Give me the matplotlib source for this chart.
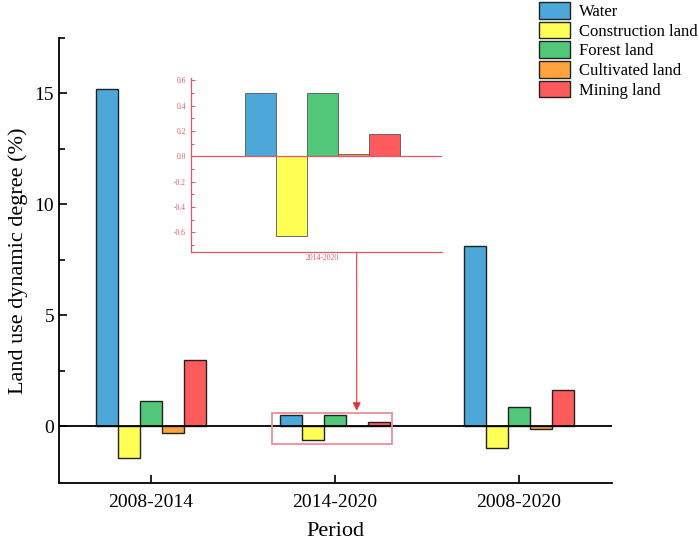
import numpy as np
import matplotlib
matplotlib.use('Agg')
import matplotlib.pyplot as plt
from matplotlib.patches import Rectangle
from matplotlib.ticker import MultipleLocator, FixedLocator

plt.rcParams['font.family'] = ['Liberation Serif', 'DejaVu Serif']
plt.rcParams['axes.unicode_minus'] = False

# data
periods = ['2008-2014', '2014-2020', '2008-2020']
classes = ['Water', 'Construction land', 'Forest land', 'Cultivated land', 'Mining land']
water = [15.2, 0.50, 8.11]
construction = [-1.44, -0.63, -1.0]
forest = [1.13, 0.50, 0.85]
cultivated = [-0.30, 0.02, -0.12]
mining = [2.97, 0.18, 1.63]
colors = ['#4ba8d9', '#ffff55', '#52c77a', '#ffa33f', '#ff5a5c']

series = [water, construction, forest, cultivated, mining]
x = np.arange(len(periods))
w = 0.12

fig = plt.figure(figsize=(6.99, 5.49), dpi=100)
ax = fig.add_axes([0.0844, 0.1202, 0.7911, 0.8106])

for i, (vals, c, name) in enumerate(zip(series, colors, classes)):
    ax.bar(x + (i - 2) * w, vals, w, color=c, edgecolor='#222222', linewidth=1.0, label=name, zorder=2)

ax.axhline(0, color='black', linewidth=1.3, zorder=3)
ax.set_xlim(-0.5, 2.505)
ax.set_ylim(-2.57, 17.5)
ax.set_xticks(x)
ax.set_xticklabels(periods)
ax.set_yticks([0, 5, 10, 15])
ax.yaxis.set_minor_locator(FixedLocator([2.5, 7.5, 12.5, 17.5]))
ax.tick_params(direction='in', labelsize=14, length=6, width=1.2)
ax.tick_params(which='minor', direction='in', length=4, width=1.2)
ax.tick_params(axis='x', pad=8)
for s in ['top', 'right']:
    ax.spines[s].set_visible(False)
for s in ['left', 'bottom']:
    ax.spines[s].set_linewidth(1.3)
ax.set_xlabel('Period', fontsize=16, labelpad=8)
ax.set_ylabel('Land use dynamic degree (%)', fontsize=16, labelpad=5)

fig.legend(loc='upper right', bbox_to_anchor=(1.013, 1.014), frameon=False, fontsize=12,
           handlelength=1.85, handleheight=1.15, labelspacing=0.1, handletextpad=0.55,
           borderaxespad=0.2)

# zoom rectangle on the 2014-2020 group
red = '#e05763'
ax.add_patch(Rectangle((0.656, -0.8), 0.652, 1.4, fill=False, edgecolor='#ec8f98',
                       linewidth=1.3, zorder=4))
ax.annotate('', xy=(1.118, 0.69), xycoords='data',
            xytext=(356.7 / 699, 1 - 252 / 549), textcoords='figure fraction',
            arrowprops=dict(arrowstyle='-|>', color='#e8303c', lw=0.8,
                            mutation_scale=12, shrinkA=0, shrinkB=0))

# inset
ins = fig.add_axes([0.2728, 0.5415, 0.3595, 0.3165])
for i, (vals, c) in enumerate(zip(series, colors)):
    ins.bar((i - 2) * w, vals[1], w, color=c, edgecolor='#555555', linewidth=0.6, zorder=2)
ins.axhline(0, color=red, linewidth=0.9, zorder=3)
ins.set_xlim(-0.51, 0.463)
ins.set_ylim(-0.752, 0.62)
ins.set_xticks([0])
ins.set_xticklabels(['2014-2020'])
ins.set_yticks([-0.6, -0.4, -0.2, 0.0, 0.2, 0.4, 0.6])
ins.yaxis.set_minor_locator(MultipleLocator(0.1))
ins.tick_params(axis='y', direction='in', labelsize=5.5, colors=red, length=3, width=0.7)
ins.tick_params(axis='y', which='minor', direction='in', length=2, width=0.7, colors=red)
ins.tick_params(axis='x', length=0, labelsize=5.5, colors=red, pad=2)
for s in ['top', 'right']:
    ins.spines[s].set_visible(False)
for s in ['left', 'bottom']:
    ins.spines[s].set_color(red)
    ins.spines[s].set_linewidth(0.9)
ins.patch.set_alpha(0)

fig.savefig('out.png', dpi=100)
